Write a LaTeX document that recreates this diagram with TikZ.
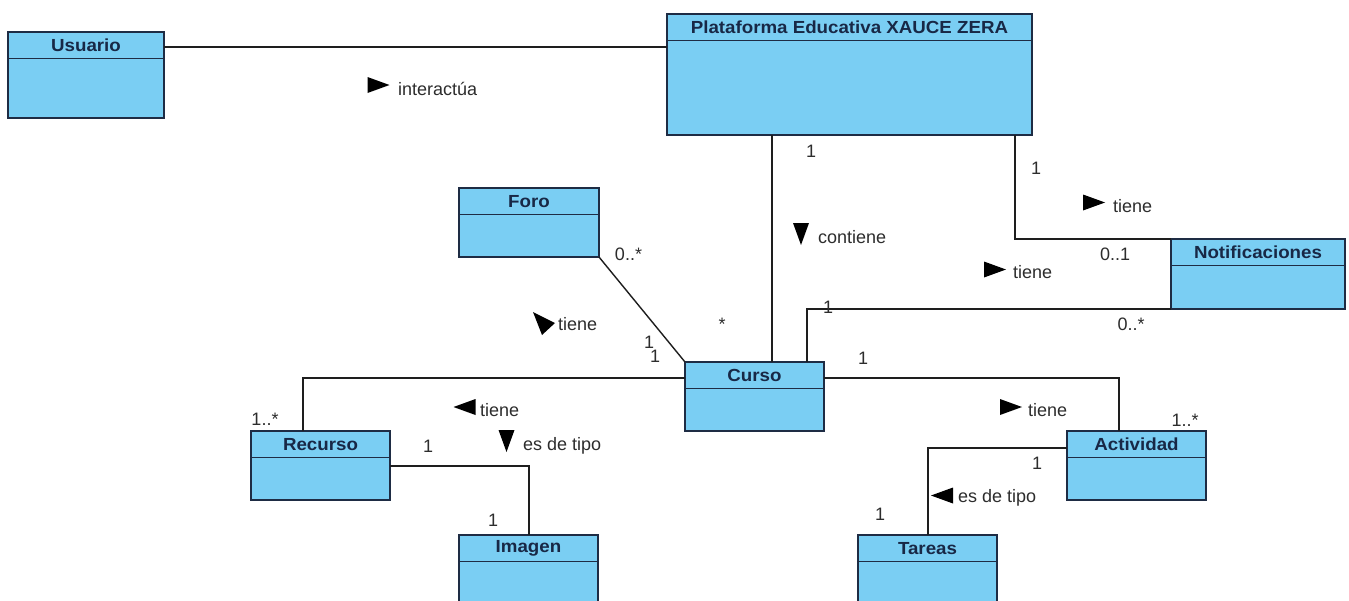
\documentclass[tikz,border=0pt]{standalone}
\usepackage{fontspec}
\usepackage{graphicx}
\setmainfont{Liberation Sans}
\usetikzlibrary{calc}

\definecolor{clsfill}{RGB}{122,206,243}
\definecolor{clsborder}{RGB}{30,44,68}
\definecolor{titlecol}{RGB}{24,40,70}
\definecolor{labelcol}{RGB}{45,45,45}
\definecolor{linecol}{RGB}{30,30,30}

\tikzset{
  clsbox/.style={draw=clsborder, fill=clsfill, line width=1.6pt, inner sep=0pt, outer sep=0pt, anchor=north west},
  clsline/.style={draw=clsborder, line width=1.6pt},
  clstitle/.style={inner sep=0pt, text=titlecol, font=\bfseries\fontsize{17.5}{20}\selectfont},
  assoc/.style={draw=linecol, line width=1.4pt},
  mult/.style={inner sep=0pt, anchor=base, text=labelcol, font=\fontsize{18}{20}\selectfont},
  rolelbl/.style={inner sep=0pt, anchor=base west, text=labelcol, font=\fontsize{18}{20}\selectfont},
  pics/dirtri/.style={code={\fill[black] (11,0) -- (-11,8) -- (-11,-8) -- cycle;}}
}

% class box: name, left, top, width, height, title
\newcommand{\umlclass}[6]{%
  \node[clsbox, minimum width=#4pt, minimum height=#5pt] (#1) at (#2,#3) {};
  \draw[clsline] ([yshift=-26.5pt]#1.north west) -- ([yshift=-26.5pt]#1.north east);
  \node[clstitle] (#1-title) at ([yshift=-13.5pt]#1.north) {\scalebox{1.07}[1]{#6}};
}

\begin{document}
\begin{tikzpicture}[x=1pt, y=-1pt]
  \useasboundingbox (0,0) rectangle (1349,600);
  \fill[white] (0,0) rectangle (1349,600);
  \clip (0,0) rectangle (1349,600);

  % bend points of the associations
  \coordinate (pcx) at (772,0);
  \coordinate (pnx) at (1015,0);
  \coordinate (cnx) at (807,0);
  \coordinate (k1) at (303,378);
  \coordinate (k2) at (1119,378);
  \coordinate (k3) at (529,466);
  \coordinate (k4) at (928,448);

  % classes
  \umlclass{usuario}{8}{32}{156}{86}{Usuario}
  \umlclass{plat}{667}{14}{365}{121}{Plataforma Educativa XAUCE ZERA}
  \umlclass{foro}{459}{188}{140}{69}{Foro}
  \umlclass{notif}{1171}{239}{174}{70}{Notificaciones}
  \umlclass{curso}{685}{362}{139}{69}{Curso}
  \umlclass{recurso}{251}{431}{139}{69}{Recurso}
  \umlclass{actividad}{1067}{431}{139}{69}{Actividad}
  \umlclass{imagen}{459}{535}{139}{80}{Imagen}
  \umlclass{tareas}{858}{535}{139}{80}{Tareas}

  % associations
  \coordinate (u1) at ([yshift=-15pt]usuario.north east);
  \draw[assoc] (u1) -- (u1 -| plat.west);
  \draw[assoc] (plat.south -| pcx) -- (curso.north -| pcx);
  \draw[assoc] (plat.south -| pnx) -- (pnx |- notif.north) -- (notif.north west);
  \draw[assoc] (curso.north -| cnx) -- (cnx |- notif.south) -- (notif.south west);
  \draw[assoc] (foro.south east) -- (curso.north west);
  \draw[assoc] (k1 -| curso.west) -- (k1) -- (k1 |- recurso.north);
  \draw[assoc] (k2 -| curso.east) -- (k2) -- (k2 |- actividad.north);
  \draw[assoc] (k3 -| recurso.east) -- (k3) -- (k3 |- imagen.north);
  \draw[assoc] (k4 -| actividad.west) -- (k4) -- (k4 |- tareas.north);

  % association names with reading direction
  \pic at (378.5,85) {dirtri};
  \node[rolelbl] (l-inter) at (398,95) {interactúa};
  \pic[rotate=-90] at (801,234) {dirtri};
  \node[rolelbl] (l-cont) at (818,243) {contiene};
  \pic at (1094,202.5) {dirtri};
  \node[rolelbl] (l-tiene1) at (1113,212) {tiene};
  \pic at (995,269.5) {dirtri};
  \node[rolelbl] (l-tiene2) at (1013,278) {tiene};
  \fill[black] (533,312) -- (555,323) -- (542,335) -- cycle;
  \node[rolelbl] (l-tiene3) at (558,330) {tiene};
  \pic[rotate=180] at (464.5,407) {dirtri};
  \node[rolelbl] (l-tiene4) at (480,416) {tiene};
  \pic[rotate=-90] at (506.5,441) {dirtri};
  \node[rolelbl] (l-tipo1) at (523,450) {es de tipo};
  \pic at (1011,407) {dirtri};
  \node[rolelbl] (l-tiene5) at (1028,416) {tiene};
  \pic[rotate=180] at (942,495.5) {dirtri};
  \node[rolelbl] (l-tipo2) at (958,502) {es de tipo};

  % multiplicities
  \node[mult] (m1) at (811,157) {1};
  \node[mult] (m2) at (1036,174) {1};
  \node[mult] (m3) at (1115,260) {0..1};
  \node[mult] (m4) at (1131,330) {0..*};
  \node[mult] (m5) at (828,313) {1};
  \node[mult] (m6) at (722,330) {*};
  \node[mult] (m7) at (628.5,260) {0..*};
  \node[mult] (m8) at (649,348) {1};
  \node[mult] (m9) at (655,362) {1};
  \node[mult] (m10) at (863,364) {1};
  \node[mult] (m11) at (265,425) {1..*};
  \node[mult] (m12) at (428,452) {1};
  \node[mult] (m13) at (493,526) {1};
  \node[mult] (m14) at (1185,426) {1..*};
  \node[mult] (m15) at (1037,469) {1};
  \node[mult] (m16) at (880,520) {1};
\end{tikzpicture}
\end{document}
